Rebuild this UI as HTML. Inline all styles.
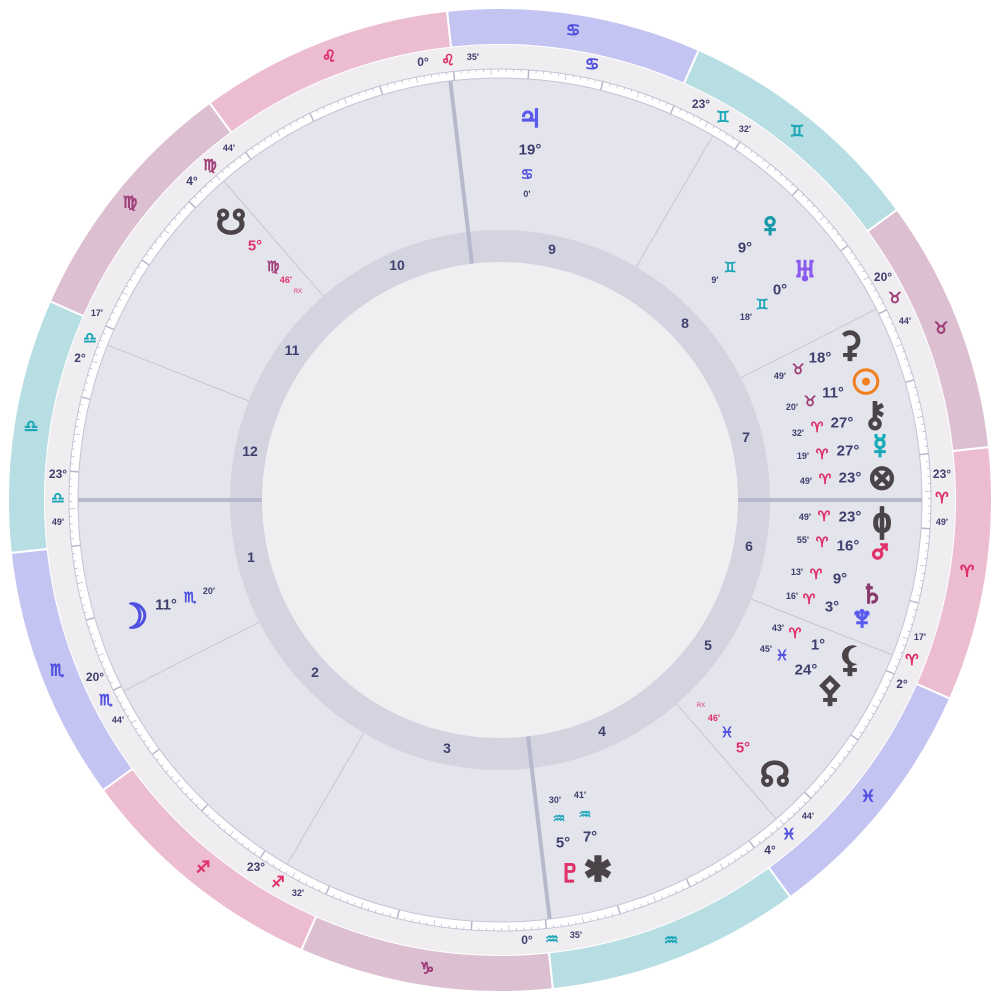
<!DOCTYPE html>
<html><head><meta charset="utf-8"><style>
html,body{margin:0;padding:0;background:#fff;}
svg{display:block;}
text{font-family:"Liberation Sans","DejaVu Sans",sans-serif;dominant-baseline:central;text-anchor:middle;}
.d{fill:#3f3f6e;font-weight:bold;}
.g{font-family:"DejaVu Sans",sans-serif;}
.sg text{stroke-width:0.9px;}
.pl text{stroke-width:1.8px;}
</style></head><body>
<svg id="s" width="1000" height="1000" viewBox="0 0 1000 1000" xmlns="http://www.w3.org/2000/svg">
<g id="bands"></g>
<circle cx="500" cy="500" r="455" fill="#efedef"/>
<circle cx="500" cy="500" r="431" fill="#ffffff" stroke="#c4c4d6" stroke-width="1"/>
<g id="ticks"></g>
<circle cx="500" cy="500" r="422" fill="#e4e4ec" stroke="#c4c4d6" stroke-width="1"/>
<circle cx="500" cy="500" r="270" fill="#d4d3e0"/>
<circle cx="500" cy="500" r="238" fill="#f0eef0"/>
<g id="cusps"></g>

<!-- zodiac band glyphs -->
<g class="g sg" font-size="16">
<text x="967" y="572" fill="#e0306a" stroke="#e0306a">♈</text>
<text x="941" y="329" fill="#a0407a" stroke="#a0407a">♉</text>
<text x="797" y="132" fill="#20a8b8" stroke="#20a8b8">♊</text>
<text x="573" y="31" fill="#5050e0" stroke="#5050e0">♋</text>
<text x="329" y="57" fill="#e0306a" stroke="#e0306a">♌</text>
<text x="130" y="203" fill="#a0407a" stroke="#a0407a">♍</text>
<text x="31" y="427" fill="#20a8b8" stroke="#20a8b8">♎</text>
<text x="57" y="671" fill="#5050e0" stroke="#5050e0">♏</text>
<text x="203" y="868" fill="#e0306a" stroke="#e0306a">♐</text>
<text x="427" y="969" fill="#a0407a" stroke="#a0407a">♑</text>
<text x="671" y="941" fill="#20a8b8" stroke="#20a8b8">♒</text>
<text x="868" y="797" fill="#5050e0" stroke="#5050e0">♓</text>
<text x="592" y="65" fill="#5050e0" stroke="#5050e0">♋</text>
</g>

<!-- house numbers -->
<g class="d" font-size="14" fill="#4a4a78">
<text x="251" y="557">1</text><text x="315" y="672">2</text><text x="447" y="748">3</text>
<text x="602" y="731">4</text><text x="708" y="645">5</text><text x="749" y="546">6</text>
<text x="746" y="437">7</text><text x="685" y="323">8</text><text x="552" y="249">9</text>
<text x="397" y="265">10</text><text x="292" y="350">11</text><text x="250" y="451">12</text>
</g>

<!-- cusp labels -->
<g font-size="12">
<text class="d" x="423" y="62">0°</text><text class="g" x="448" y="60" fill="#e0306a" stroke="#e0306a" stroke-width="0.8" font-size="15">♌</text><text class="d" x="473" y="57" font-size="9">35'</text>
<text class="d" x="701" y="104">23°</text><text class="g" x="723" y="117" fill="#20a8b8" stroke="#20a8b8" stroke-width="0.8" font-size="15">♊</text><text class="d" x="745" y="129" font-size="9">32'</text>
<text class="d" x="883" y="277">20°</text><text class="g" x="895" y="298" fill="#a0407a" stroke="#a0407a" stroke-width="0.8" font-size="15">♉</text><text class="d" x="905" y="321" font-size="9">44'</text>
<text class="d" x="942" y="474">23°</text><text class="g" x="942" y="498" fill="#e0306a" stroke="#e0306a" stroke-width="0.8" font-size="15">♈</text><text class="d" x="942" y="522" font-size="9">49'</text>
<text class="d" x="920" y="637" font-size="9">17'</text><text class="g" x="912" y="660" fill="#e0306a" stroke="#e0306a" stroke-width="0.8" font-size="15">♈</text><text class="d" x="902" y="684">2°</text>
<text class="d" x="808" y="816" font-size="9">44'</text><text class="g" x="789" y="834" fill="#5050e0" stroke="#5050e0" stroke-width="0.8" font-size="15">♓</text><text class="d" x="770" y="850">4°</text>
<text class="d" x="527" y="940">0°</text><text class="g" x="552" y="939" fill="#20a8b8" stroke="#20a8b8" stroke-width="0.8" font-size="15">♒</text><text class="d" x="576" y="935" font-size="9">35'</text>
<text class="d" x="256" y="867">23°</text><text class="g" x="278" y="882" fill="#e0306a" stroke="#e0306a" stroke-width="0.8" font-size="15">♐</text><text class="d" x="298" y="893" font-size="9">32'</text>
<text class="d" x="95" y="677">20°</text><text class="g" x="106" y="700" fill="#5050e0" stroke="#5050e0" stroke-width="0.8" font-size="15">♏</text><text class="d" x="118" y="720" font-size="9">44'</text>
<text class="d" x="58" y="474">23°</text><text class="g" x="58" y="498" fill="#20a8b8" stroke="#20a8b8" stroke-width="0.8" font-size="15">♎</text><text class="d" x="58" y="522" font-size="9">49'</text>
<text class="d" x="97" y="313" font-size="9">17'</text><text class="g" x="90" y="338" fill="#20a8b8" stroke="#20a8b8" stroke-width="0.8" font-size="15">♎</text><text class="d" x="80" y="358">2°</text>
<text class="d" x="192" y="181">4°</text><text class="g" x="210" y="165" fill="#a0407a" stroke="#a0407a" stroke-width="0.8" font-size="15">♍</text><text class="d" x="229" y="148" font-size="9">44'</text>
</g>

<!-- planets -->
<g class="g pl" font-size="34">
<text x="530" y="117" fill="#5a5af0" stroke="#5a5af0">♃</text>
<text x="770" y="225" fill="#1a9aa8" stroke="#1a9aa8">♀</text>
<text x="805" y="270" fill="#8a5af0" stroke="#8a5af0">♅</text>
<text x="850" y="345" fill="#4a4448" stroke="#4a4448">⚳</text>
<text x="866" y="383" fill="#f08020" stroke="#f08020">☉</text>
<text x="875" y="415" fill="#4a4448" stroke="#4a4448">⚷</text>
<text x="880" y="447" fill="#1aaab8" stroke="#1aaab8">☿</text>
<text x="882" y="478" fill="#4a4448" stroke="#4a4448">⊗</text>
<text x="882" y="521" fill="#4a4448" stroke="#4a4448">ɸ</text>
<text x="880" y="552" fill="#e0306a" stroke="#e0306a">♂</text>
<text x="872" y="593" fill="#8a3a6a" stroke="#8a3a6a">♄</text>
<text x="862" y="618" fill="#5a5af0" stroke="#5a5af0">♆</text>
<text x="850" y="660" fill="#4a4448" stroke="#4a4448">⚸</text>
<text x="830" y="690" fill="#4a4448" stroke="#4a4448">⚴</text>
<text x="775" y="775" fill="#4a4448" stroke="#4a4448">☊</text>
<text x="570" y="872" fill="#e0306a" stroke="#e0306a">♇</text>
<text x="598" y="870" fill="#4a4448" stroke="#4a4448">✱</text>
<text x="133" y="617" fill="#5050e0" stroke="#5050e0">☽</text>
<text x="231" y="223" fill="#4a4448" stroke="#4a4448">☋</text>
</g>

<g font-size="15">
<text class="d" x="530" y="150">19°</text><text class="g" x="527" y="175" fill="#5050e0" stroke="#5050e0" stroke-width="0.7" font-size="14">♋</text><text class="d" x="527" y="194" font-size="9">0'</text>
<text class="d" x="745" y="248">9°</text><text class="g" x="730" y="268" fill="#20a8b8" stroke="#20a8b8" stroke-width="0.7" font-size="14">♊</text><text class="d" x="715" y="280" font-size="9">9'</text>
<text class="d" x="780" y="290">0°</text><text class="g" x="762" y="305" fill="#20a8b8" stroke="#20a8b8" stroke-width="0.7" font-size="14">♊</text><text class="d" x="746" y="317" font-size="9">18'</text>
<text class="d" x="820" y="358">18°</text><text class="g" x="798" y="370" fill="#a0407a" stroke="#a0407a" stroke-width="0.7" font-size="14">♉</text><text class="d" x="780" y="376" font-size="9">49'</text>
<text class="d" x="833" y="393">11°</text><text class="g" x="810" y="402" fill="#a0407a" stroke="#a0407a" stroke-width="0.7" font-size="14">♉</text><text class="d" x="792" y="407" font-size="9">20'</text>
<text class="d" x="842" y="423">27°</text><text class="g" x="817" y="428" fill="#e0306a" stroke="#e0306a" stroke-width="0.7" font-size="14">♈</text><text class="d" x="798" y="433" font-size="9">32'</text>
<text class="d" x="848" y="451">27°</text><text class="g" x="822" y="455" fill="#e0306a" stroke="#e0306a" stroke-width="0.7" font-size="14">♈</text><text class="d" x="803" y="456" font-size="9">19'</text>
<text class="d" x="850" y="478">23°</text><text class="g" x="825" y="480" fill="#e0306a" stroke="#e0306a" stroke-width="0.7" font-size="14">♈</text><text class="d" x="806" y="481" font-size="9">49'</text>
<text class="d" x="850" y="517">23°</text><text class="g" x="824" y="517" fill="#e0306a" stroke="#e0306a" stroke-width="0.7" font-size="14">♈</text><text class="d" x="805" y="517" font-size="9">49'</text>
<text class="d" x="848" y="546">16°</text><text class="g" x="822" y="543" fill="#e0306a" stroke="#e0306a" stroke-width="0.7" font-size="14">♈</text><text class="d" x="803" y="540" font-size="9">55'</text>
<text class="d" x="840" y="579">9°</text><text class="g" x="816" y="575" fill="#e0306a" stroke="#e0306a" stroke-width="0.7" font-size="14">♈</text><text class="d" x="797" y="572" font-size="9">13'</text>
<text class="d" x="832" y="607">3°</text><text class="g" x="809" y="600" fill="#e0306a" stroke="#e0306a" stroke-width="0.7" font-size="14">♈</text><text class="d" x="792" y="596" font-size="9">16'</text>
<text class="d" x="818" y="645">1°</text><text class="g" x="795" y="634" fill="#e0306a" stroke="#e0306a" stroke-width="0.7" font-size="14">♈</text><text class="d" x="778" y="628" font-size="9">43'</text>
<text class="d" x="806" y="670">24°</text><text class="g" x="782" y="656" fill="#5050e0" stroke="#5050e0" stroke-width="0.7" font-size="14">♓</text><text class="d" x="766" y="649" font-size="9">45'</text>
<text class="d" x="743" y="748" style="fill:#e0306a">5°</text><text class="g" x="727" y="733" fill="#5050e0" stroke="#5050e0" stroke-width="0.7" font-size="14">♓</text><text x="714" y="718" font-size="9" fill="#e0306a" font-weight="bold">46'</text><text x="701" y="706" font-size="6" fill="#e0306a">RX</text>
<text class="d" x="563" y="843">5°</text><text class="g" x="559" y="819" fill="#20a8b8" stroke="#20a8b8" stroke-width="0.7" font-size="14">♒</text><text class="d" x="555" y="800" font-size="9">30'</text>
<text class="d" x="590" y="837">7°</text><text class="g" x="585" y="815" fill="#20a8b8" stroke="#20a8b8" stroke-width="0.7" font-size="14">♒</text><text class="d" x="580" y="795" font-size="9">41'</text>
<text class="d" x="166" y="605">11°</text><text class="g" x="190" y="598" fill="#5050e0" stroke="#5050e0" stroke-width="0.7" font-size="14">♏</text><text class="d" x="209" y="591" font-size="9">20'</text>
<text class="d" x="255" y="246" style="fill:#e0306a">5°</text><text class="g" x="273" y="267" fill="#a0407a" stroke="#a0407a" stroke-width="0.7" font-size="14">♍</text><text x="286" y="280" font-size="9" fill="#e0306a" font-weight="bold">46'</text><text x="298" y="292" font-size="6" fill="#e0306a">RX</text>
</g>
</svg>
<script>
(function(){
var NS="http://www.w3.org/2000/svg",cx=500,cy=500;
function P(r,t){var a=t*Math.PI/180;return [cx+r*Math.cos(a),cy-r*Math.sin(a)];}
function el(n,at,p){var e=document.createElementNS(NS,n);for(var k in at)e.setAttribute(k,at[k]);p.appendChild(e);return e;}
var cols=["#ecbcd0","#dcc0d2","#b6dee3","#c4c4f2"];
var bands=document.getElementById("bands");
for(var i=0;i<12;i++){
 var t1=i*30-23.82,t2=t1+30,ro=492,ri=455;
 var a=P(ro,t1),b=P(ro,t2),c=P(ri,t2),d=P(ri,t1);
 el("path",{d:"M"+a+" A"+ro+" "+ro+" 0 0 0 "+b+" L"+c+" A"+ri+" "+ri+" 0 0 1 "+d+"Z",fill:cols[i%4],stroke:"#fff","stroke-width":2},bands);
}
var tk=document.getElementById("ticks");
for(var L=0;L<360;L++){
 var t=L-23.82,len=(L%10==0)?9:(L%5==0)?6:3;
 var p1=P(431,t),p2=P(431-len,t);
 el("line",{x1:p1[0],y1:p1[1],x2:p2[0],y2:p2[1],stroke:"#b8b8cc","stroke-width":L%10==0?1.5:0.7},tk);
}
var cu=document.getElementById("cusps");
var cs=[180,206.9,239.7,276.76,310.9,338.46,0,26.9,59.7,96.76,130.9,158.46];
cs.forEach(function(t,i){
 var ax=(i%3==0);
 var p1=P(ax?238:270,t),p2=P(422,t);
 el("line",{x1:p1[0],y1:p1[1],x2:p2[0],y2:p2[1],stroke:ax?"#b8b8cc":"#c6c6d4","stroke-width":ax?4:1},cu);
});
})();
</script>
</body></html>
